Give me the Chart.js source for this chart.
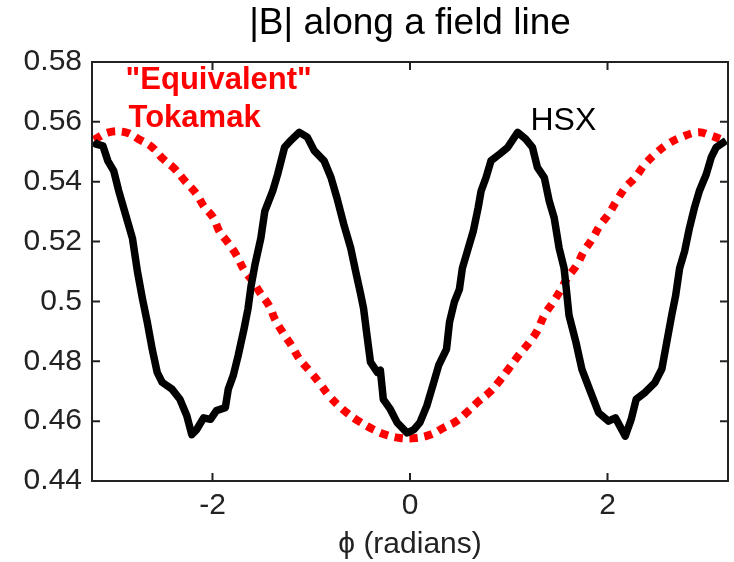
<!DOCTYPE html>
<html>
<head>
<meta charset="utf-8">
<title>|B| along a field line</title>
<script src="https://cdn.jsdelivr.net/npm/chart.js@4.4.1/dist/chart.umd.min.js"></script>
<style>
  body { margin: 0; background: #fff; }
  canvas { display: block; }
</style>
</head>
<body>
<canvas id="fieldLine" width="734" height="562"></canvas>
<script>
const chartTitle = '|B| along a field line';
const xTicks = [-2, 0, 2];
const yTicks = [0.44, 0.46, 0.48, 0.5, 0.52, 0.54, 0.56, 0.58];

// HSX
const hsxPhi = [-3.20, -3.18, -3.11, -3.06, -3.00, -2.95, -2.88, -2.81, -2.76, -2.71, -2.66, -2.61, -2.56, -2.51,
  -2.41, -2.33, -2.26, -2.21, -2.16, -2.09, -2.02, -1.96, -1.87, -1.84, -1.79, -1.74, -1.68, -1.64, -1.61,
  -1.57, -1.51, -1.47, -1.39, -1.34, -1.27, -1.21, -1.12, -1.04, -0.97, -0.87, -0.80, -0.74, -0.67, -0.60,
  -0.55, -0.50, -0.47, -0.44, -0.40, -0.33, -0.30, -0.27, -0.20, -0.13, -0.03, 0.04, 0.10, 0.17, 0.24, 0.29,
  0.37, 0.40, 0.45, 0.50, 0.53, 0.58, 0.64, 0.69, 0.72, 0.77, 0.82, 0.91, 0.99, 1.09, 1.17, 1.24, 1.29, 1.36,
  1.41, 1.46, 1.51, 1.56, 1.58, 1.61, 1.68, 1.74, 1.83, 1.91, 2.01, 2.08, 2.18, 2.24, 2.29, 2.38, 2.48, 2.55,
  2.60, 2.65, 2.69, 2.73, 2.78, 2.83, 2.88, 2.93, 3.00, 3.05, 3.10, 3.20];
const hsxB = [0.5535, 0.5526, 0.5520, 0.5470, 0.5436, 0.5370, 0.5290, 0.5210, 0.5100, 0.5010, 0.4930, 0.4840, 0.4763, 0.4730,
  0.4707, 0.4673, 0.4618, 0.4555, 0.4572, 0.4611, 0.4606, 0.4635, 0.4645, 0.4707, 0.4752, 0.4819, 0.4909, 0.4976, 0.5050,
  0.5122, 0.5212, 0.5302, 0.5369, 0.5425, 0.5515, 0.5537, 0.5565, 0.5549, 0.5504, 0.5470, 0.5414, 0.5346, 0.5257, 0.5178,
  0.5100, 0.5025, 0.4976, 0.4898, 0.4797, 0.4763, 0.4770, 0.4673, 0.4640, 0.4595, 0.4561, 0.4572, 0.4595, 0.4651, 0.4729, 0.4786,
  0.4841, 0.4931, 0.4999, 0.5040, 0.5111, 0.5167, 0.5234, 0.5313, 0.5369, 0.5414, 0.5470, 0.5493, 0.5515, 0.5565, 0.5543, 0.5515, 0.5448, 0.5414,
  0.5335, 0.5279, 0.5178, 0.5111, 0.5050, 0.4954, 0.4864, 0.4774, 0.4696, 0.4628, 0.4600, 0.4611, 0.4550, 0.4606, 0.4673, 0.4696, 0.4729, 0.4774,
  0.4864, 0.4954, 0.5020, 0.5111, 0.5167, 0.5246, 0.5313, 0.5369, 0.5425, 0.5481, 0.5515, 0.5537];

// "Equivalent" tokamak
const tokPhi = [-3.20, -3.05, -2.88, -2.75, -2.61, -2.50, -2.38, -2.28, -2.16, -2.09, -1.99, -1.93, -1.84, -1.76, -1.68,
  -1.59, -1.52, -1.42, -1.37, -1.28, -1.20, -1.12, -1.02, -0.92, -0.82, -0.72, -0.64, -0.52, -0.37, -0.25, -0.10,
  0.06, 0.21, 0.34, 0.47, 0.59, 0.70, 0.82, 0.92, 1.01, 1.11, 1.21, 1.29, 1.36, 1.44, 1.52, 1.59, 1.69, 1.76,
  1.84, 1.93, 2.01, 2.09, 2.18, 2.28, 2.38, 2.50, 2.61, 2.75, 2.92, 3.05, 3.20];
const tokB = [0.5540, 0.5565, 0.5565, 0.5543, 0.5515, 0.5476, 0.5442, 0.5403, 0.5358, 0.5319, 0.5279, 0.5234, 0.5195, 0.5156, 0.5105,
  0.5066, 0.5030, 0.4982, 0.4942, 0.4892, 0.4853, 0.4808, 0.4769, 0.4729, 0.4685, 0.4651, 0.4628, 0.4600, 0.4572, 0.4555, 0.4544,
  0.4544, 0.4555, 0.4578, 0.4600, 0.4634, 0.4668, 0.4701, 0.4740, 0.4780, 0.4824, 0.4864, 0.4903, 0.4954, 0.4993, 0.5035, 0.5077, 0.5122, 0.5167,
  0.5206, 0.5257, 0.5291, 0.5335, 0.5380, 0.5414, 0.5459, 0.5498, 0.5526, 0.5549, 0.5565, 0.5554, 0.5535];

const FONT = '"Liberation Sans", Arial, Helvetica, sans-serif';

// MATLAB-style box with inward ticks, title centred over the axes, and text labels
const matlabBox = {
  id: 'matlabBox',
  afterDatasetsDraw(chart) {
    const { ctx, chartArea: a, scales: { x, y } } = chart;
    const len = 8;
    ctx.save();
    ctx.strokeStyle = '#222';
    ctx.lineWidth = 2;
    ctx.strokeRect(a.left, a.top, a.right - a.left, a.bottom - a.top);
    ctx.beginPath();
    xTicks.forEach(v => {
      const px = x.getPixelForValue(v);
      ctx.moveTo(px, a.bottom); ctx.lineTo(px, a.bottom - len);
      ctx.moveTo(px, a.top); ctx.lineTo(px, a.top + len);
    });
    yTicks.forEach(v => {
      const py = y.getPixelForValue(v);
      ctx.moveTo(a.left, py); ctx.lineTo(a.left + len, py);
      ctx.moveTo(a.right, py); ctx.lineTo(a.right - len, py);
    });
    ctx.stroke();

    ctx.textBaseline = 'middle';
    ctx.textAlign = 'center';
    ctx.fillStyle = '#000';
    ctx.font = '37px ' + FONT;
    ctx.fillText(chartTitle, (a.left + a.right) / 2, 24);

    ctx.textAlign = 'left';
    ctx.fillStyle = '#ff0000';
    ctx.font = 'bold 31px ' + FONT;
    ctx.fillText('"Equivalent"', x.getPixelForValue(-2.88), y.getPixelForValue(0.5737));
    ctx.fillText('Tokamak', x.getPixelForValue(-2.85), y.getPixelForValue(0.5610));
    ctx.fillStyle = '#000';
    ctx.font = '32px ' + FONT;
    ctx.fillText('HSX', x.getPixelForValue(1.22), y.getPixelForValue(0.5601));
    ctx.restore();
  }
};

const ctx = document.getElementById('fieldLine').getContext('2d');
new Chart(ctx, {
  type: 'line',
  data: {
    datasets: [
      {
        label: 'HSX',
        data: hsxPhi.map((p, i) => ({ x: p, y: hsxB[i] })),
        borderColor: '#000',
        borderWidth: 7.5,
        pointRadius: 0,
        tension: 0,
        borderJoinStyle: 'round',
        clip: 4,
      },
      {
        label: '"Equivalent" Tokamak',
        data: tokPhi.map((p, i) => ({ x: p, y: tokB[i] })),
        borderColor: '#ff0000',
        borderWidth: 8,
        borderDash: [8, 7],
        borderCapStyle: 'butt',
        pointRadius: 0,
        tension: 0.4,
        clip: 4,
      },
    ],
  },
  options: {
    responsive: false,
    animation: false,
    layout: { padding: { left: 0, right: 6, top: 62, bottom: 0 } },
    plugins: {
      legend: { display: false },
      tooltip: { enabled: false },
      title: { display: false },
    },
    scales: {
      x: {
        type: 'linear',
        min: -3.22,
        max: 3.22,
        grid: { display: false, drawTicks: false },
        border: { display: false },
        afterBuildTicks: (scale) => { scale.ticks = xTicks.map(v => ({ value: v })); },
        afterFit: (scale) => { scale.height = 81; },
        ticks: {
          color: '#222',
          padding: 10,
          maxRotation: 0,
          font: { family: FONT, size: 30, lineHeight: 1 },
          callback: (v) => String(v),
        },
        title: {
          display: true,
          text: 'ϕ (radians)',
          color: '#222',
          font: { family: FONT, size: 30, lineHeight: 1 },
          padding: { top: 0, bottom: 2 },
        },
      },
      y: {
        type: 'linear',
        min: 0.44,
        max: 0.58,
        grid: { display: false, drawTicks: false },
        border: { display: false },
        afterBuildTicks: (scale) => { scale.ticks = yTicks.map(v => ({ value: v })); },
        afterFit: (scale) => { scale.width = 92; },
        ticks: {
          color: '#222',
          padding: 10,
          font: { family: FONT, size: 30, lineHeight: 1 },
          callback: (v) => String(+v.toFixed(2)),
        },
      },
    },
  },
  plugins: [matlabBox],
});
</script>
</body>
</html>
